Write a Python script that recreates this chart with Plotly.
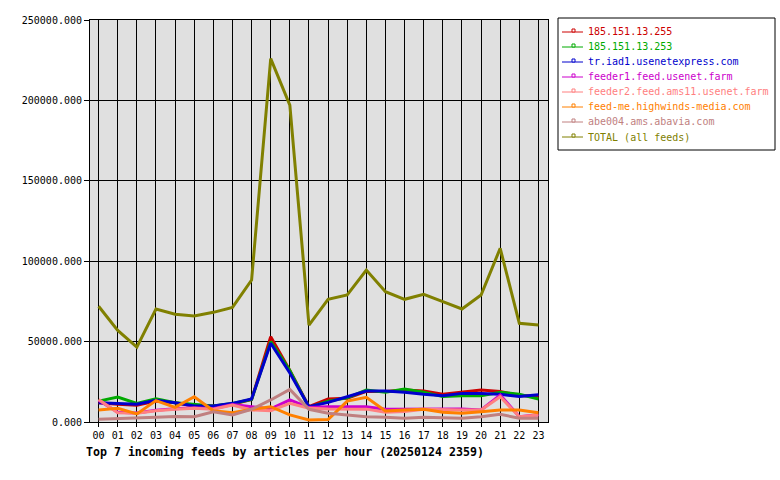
import plotly.graph_objects as go

hours = [f"{h:02d}" for h in range(24)]

feed_names = [
    "185.151.13.255",
    "185.151.13.253",
    "tr.iad1.usenetexpress.com",
    "feeder1.feed.usenet.farm",
    "feeder2.feed.ams11.usenet.farm",
    "feed-me.highwinds-media.com",
    "abe004.ams.abavia.com",
    "TOTAL (all feeds)",
]
feed_colors = ["#cc0000", "#00aa00", "#0000cc", "#cc00cc", "#ff8080", "#ff8000", "#c08080", "#808000"]

red_255 = [12000, 11000, 10500, 13000, 12000, 10000, 10000, 11000, 14000, 53000, 32000, 9500,
           14300, 14700, 19000, 19000, 19900, 19300, 17200, 18500, 19900, 19000, 16500, 16000]
green_253 = [13000, 15500, 11500, 14500, 12000, 11000, 10000, 11500, 14000, 50000, 32000, 9000,
             13000, 15000, 19900, 18500, 20500, 18500, 15800, 16400, 16400, 18500, 17200, 14300]
blue_iad1 = [12000, 11500, 11000, 13500, 12000, 10000, 10000, 11600, 14300, 49000, 30500, 9500,
             12200, 15700, 19300, 19300, 18500, 17200, 16400, 17800, 17800, 17200, 15800, 17000]
feeder1 = [13500, 6000, 5600, 7300, 8200, 8800, 8200, 10800, 9500, 8100, 13700, 9000,
           9500, 9500, 9500, 7900, 7900, 8000, 8100, 8100, 7500, 16800, 3300, 4500]
feeder2 = [14000, 5800, 5400, 7000, 7900, 8500, 7900, 10500, 7500, 7000, 11600, 8500,
           8100, 8100, 8000, 6000, 6500, 7900, 7500, 7500, 7500, 15700, 3300, 4400]
feed_me = [7500, 8500, 5000, 13300, 9100, 15700, 7000, 5800, 7900, 9500, 4400, 1200,
           1500, 13000, 15400, 6800, 7500, 7900, 6000, 5400, 6400, 7500, 7500, 5800]
abe004 = [1700, 2000, 2500, 3000, 3400, 3300, 6400, 4400, 7900, 13700, 20300, 7900,
          5400, 4400, 3300, 3000, 2300, 3000, 2700, 2300, 3300, 4800, 2300, 2300]
total = [72000, 57000, 46600, 70300, 67000, 66000, 68200, 71300, 88300, 226000, 197000, 60300,
         76300, 79000, 94500, 81000, 76300, 79400, 74800, 70300, 79000, 108000, 61400, 60300]

series = [red_255, green_253, blue_iad1, feeder1, feeder2, feed_me, abe004, total]
title_text = "Top 7 incoming feeds by articles per hour (20250124 2359)"

MONO = "DejaVu Sans Mono"
W, H = 780, 480
L, R, T, B = 90, 548, 20, 422

fig = go.Figure()
for name, col, vals in zip(feed_names, feed_colors, series):
    fig.add_trace(go.Scatter(x=hours, y=vals, name=name, mode="lines",
                             line=dict(color=col, width=3), showlegend=False))

def px_x(px):
    return (px - L) / (R - L)

def px_y(py):
    return (B - py) / (B - T)

shapes = []
annotations = []
# legend box
shapes.append(dict(type="rect", xref="paper", yref="paper",
                   x0=px_x(558), x1=px_x(775), y0=px_y(150), y1=px_y(18),
                   line=dict(color="black", width=1), fillcolor="white", layer="below"))
for i, (name, col) in enumerate(zip(feed_names, feed_colors)):
    yy = 32 + 15 * i
    shapes.append(dict(type="line", xref="paper", yref="paper",
                       x0=px_x(562), x1=px_x(583), y0=px_y(yy), y1=px_y(yy),
                       line=dict(color=col, width=1)))
    shapes.append(dict(type="rect", xref="paper", yref="paper",
                       x0=px_x(572), x1=px_x(575), y0=px_y(yy), y1=px_y(yy - 3),
                       line=dict(color=col, width=1), fillcolor="white"))
    annotations.append(dict(xref="paper", yref="paper", x=px_x(586), y=px_y(yy),
                            xanchor="left", yanchor="middle", text=name, showarrow=False,
                            font=dict(family=MONO, size=10, color=col)))

annotations.append(dict(xref="paper", yref="paper", x=px_x(84), y=px_y(452),
                        xanchor="left", yanchor="middle", text="<b>" + title_text + "</b>",
                        showarrow=False, font=dict(family=MONO, size=11.6, color="black")))

fig.update_layout(
    width=W, height=H,
    margin=dict(l=L, r=W - R, t=T, b=H - B),
    paper_bgcolor="white", plot_bgcolor="#e0e0e0",
    font=dict(family=MONO, size=10, color="black"),
    shapes=shapes, annotations=annotations,
    showlegend=False,
)
fig.update_xaxes(type="category", range=[-0.45, 23.5], showgrid=True, gridcolor="black", gridwidth=1,
                 showline=True, linecolor="black", linewidth=1, mirror=True,
                 ticks="outside", ticklen=4, tickcolor="black", zeroline=False,
                 tickfont=dict(family=MONO, size=10))
fig.update_yaxes(range=[0, 250000], dtick=50000, tickformat=".3f", showgrid=True, gridcolor="black",
                 gridwidth=1, showline=True, linecolor="black", linewidth=1, mirror=True,
                 ticks="outside", ticklen=5, tickcolor="black", zeroline=False,
                 tickfont=dict(family=MONO, size=10))

fig.write_html("out.html")
